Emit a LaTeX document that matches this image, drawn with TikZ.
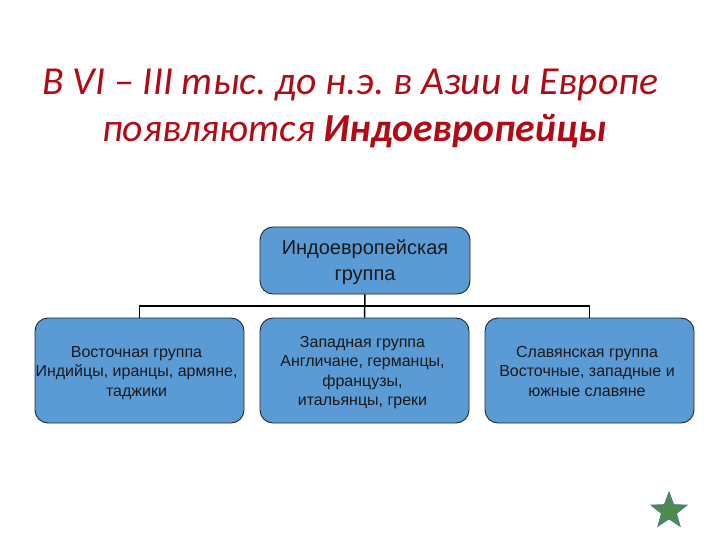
\documentclass[tikz,border=0pt]{standalone}
\usepackage{fontspec}
\setmainfont{Liberation Sans}
\newfontfamily\titlefont{Carlito}
\usetikzlibrary{shapes.geometric}
\definecolor{boxblue}{HTML}{5B9BD5}
\definecolor{titlered}{HTML}{B00A14}
\definecolor{stargreen}{HTML}{4E8A4E}
\definecolor{staredge}{HTML}{4A7A90}
\newcommand\nudged[3]{\setbox0=\hbox{\begin{tabular}{@{}c@{}}#3\end{tabular}}%
  \wd0=\dimexpr\wd0+#1*2\relax\ht0=\dimexpr\ht0+#2*2\relax\box0 }
\tikzset{
  x=1pt,y=-1pt,
  orgbox/.style={draw=black!85,line width=0.9pt,fill=boxblue,rounded corners=13pt,text=black!90,inner sep=0pt,anchor=center},
  link/.style={draw=black,line width=1.5pt},
  titletext/.style={font=\titlefont\itshape\fontsize{39.7}{44}\selectfont,text=titlered,anchor=base west,inner sep=0pt}
}
\frenchspacing
\begin{document}
\begin{tikzpicture}
\useasboundingbox (0,0) rectangle (720,540);
\node[titletext] (t1) at (42,94.5) {В VI – III тыс. до н.э. в Азии и Европе};
\node[titletext] (t2) at (102,141.5) {появляются \bfseries Индоевропейцы};
\node[orgbox,minimum width=210pt,minimum height=67pt,font=\fontsize{20}{26}\selectfont] (top) at (365,260.5) {\nudged{0pt}{2pt}{Индоевропейская\\группа}};
\node[orgbox,minimum width=209pt,minimum height=105pt,font=\fontsize{16}{19.4}\selectfont] (east) at (139.5,370.5) {\nudged{3pt}{2.5pt}{Восточная группа\\Индийцы, иранцы, армяне,\\таджики}};
\node[orgbox,minimum width=209pt,minimum height=105pt,font=\fontsize{16}{19.4}\selectfont] (west) at (364.5,370.5) {\nudged{2pt}{2pt}{Западная группа\\Англичане, германцы,\\французы,\\итальянцы, греки}};
\node[orgbox,minimum width=209pt,minimum height=105pt,font=\fontsize{16}{19.4}\selectfont] (slav) at (589.5,370.5) {\nudged{2.5pt}{2.5pt}{Славянская группа\\Восточные, западные и\\южные славяне}};
\coordinate (bus) at (365,306);
\draw[link] (top.south) -- (west.north);
\draw[link] (east.north) |- (bus) -| (slav.north);
\node[star,star points=5,star point ratio=2.4,minimum size=38pt,inner sep=0pt,draw=staredge,line width=0.8pt,fill=stargreen] (s) at (669,511) {};
\end{tikzpicture}
\end{document}
